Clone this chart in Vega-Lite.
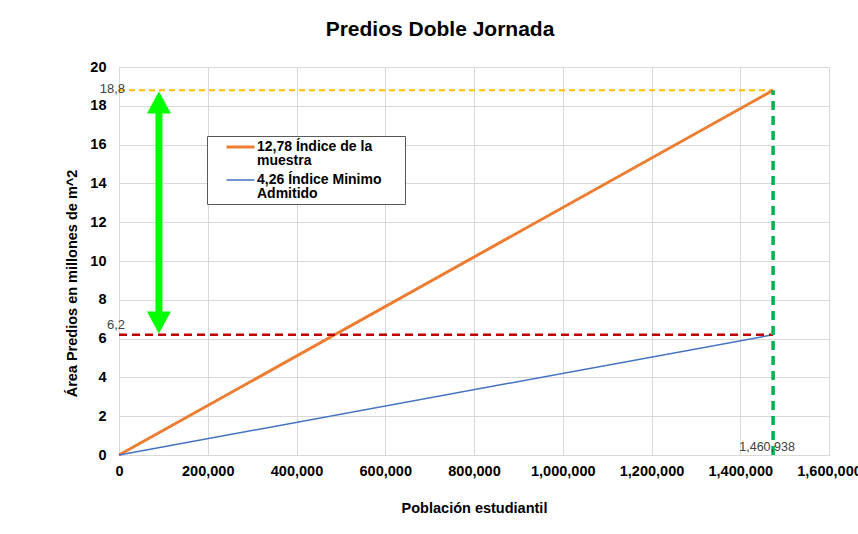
{
  "$schema": "https://vega.github.io/schema/vega-lite/v6.json",
  "width": 710,
  "height": 388,
  "autosize": "none",
  "padding": {"left": 119, "top": 67, "right": 29, "bottom": 79},
  "background": "white",
  "title": {"text": "Predios Doble Jornada", "font": "Liberation Sans", "fontSize": 21, "fontWeight": "bold", "color": "#000000", "anchor": "middle", "dx": -34, "offset": 19},
  "config": {"view": {"stroke": "#d9d9d9"}, "font": "Liberation Sans"},
  "datasets": {
    "lines": [
      {"series": "12,78 Índice de la muestra", "pob": 0, "area": 0},
      {"series": "12,78 Índice de la muestra", "pob": 1474000, "area": 18.8},
      {"series": "4,26 Índice Minimo Admitido", "pob": 0, "area": 0},
      {"series": "4,26 Índice Minimo Admitido", "pob": 1474000, "area": 6.2}
    ]
  },
  "layer": [
    {
      "data": {"values": [{"x0": 0, "x1": 1474000, "y": 18.8}]},
      "mark": {"type": "rule", "color": "#FFC000", "strokeWidth": 2, "strokeDash": [6, 4]},
      "encoding": {
        "x": {"field": "x0", "type": "quantitative", "scale": {"domain": [0, 1600000], "nice": false},
          "axis": {"values": [0, 200000, 400000, 600000, 800000, 1000000, 1200000, 1400000, 1600000], "tickCount": 20, "format": ",d", "labelFont": "Liberation Sans", "labelFontSize": 14.5, "labelFontWeight": "bold", "labelColor": "#000000", "labelPadding": 9, "ticks": false, "domainColor": "#d9d9d9", "gridColor": "#d9d9d9", "labelOverlap": false, "labelBound": false, "labelFlush": false, "title": "Población estudiantil", "titleFont": "Liberation Sans", "titleFontSize": 14.5, "titleFontWeight": "bold", "titleColor": "#000000", "titleY": 53, "titleBaseline": "middle"}},
        "x2": {"field": "x1"},
        "y": {"field": "y", "type": "quantitative", "scale": {"domain": [0, 20], "nice": false},
          "axis": {"values": [0, 2, 4, 6, 8, 10, 12, 14, 16, 18, 20], "tickCount": 20, "labelFont": "Liberation Sans", "labelFontSize": 14.5, "labelFontWeight": "bold", "labelColor": "#000000", "labelPadding": 13, "labelOverlap": false, "labelBound": false, "labelFlush": false, "ticks": false, "domain": false, "gridColor": "#d9d9d9", "title": "Área  Predios en millones de m^2", "titleFont": "Liberation Sans", "titleFontSize": 14.5, "titleFontWeight": "bold", "titleColor": "#000000", "titleX": -47, "titleY": 216, "titleAngle": -90, "titleAlign": "center", "titleBaseline": "middle"}}
      }
    },
    {
      "data": {"name": "lines"},
      "mark": {"type": "line"},
      "encoding": {
        "x": {"field": "pob", "type": "quantitative"},
        "y": {"field": "area", "type": "quantitative"},
        "color": {"field": "series", "type": "nominal",
          "scale": {"domain": ["12,78 Índice de la muestra", "4,26 Índice Minimo Admitido"], "range": ["#ED7D31", "#4472C4"]},
          "legend": {"orient": "none", "legendX": 88, "legendY": 69, "title": null, "strokeColor": "#595959", "fillColor": "white", "padding": 3, "symbolOffset": 15,
            "labelFont": "Liberation Sans", "labelFontSize": 14, "labelFontWeight": "bold", "labelColor": "#000000",
            "labelExpr": "datum.label == '12,78 Índice de la muestra' ? ['12,78 Índice de la', 'muestra'] : ['4,26 Índice Minimo\u2800\u2800', 'Admitido']",
            "labelBaseline": "top",
            "symbolType": "stroke", "symbolSize": 196, "symbolStrokeWidth": 2.5, "rowPadding": 4, "labelOffset": 1, "labelLimit": 250,
            "encode": {"labels": {"update": {"lineHeight": {"value": 14}, "dy": {"value": -7}, "y": {"value": 8}}}, "symbols": {"update": {"size": {"value": 784}, "y": {"value": 8}}}}}},
        "strokeWidth": {"field": "series", "type": "nominal",
          "scale": {"domain": ["12,78 Índice de la muestra", "4,26 Índice Minimo Admitido"], "range": [3, 1.5]}, "legend": null}
      }
    },
    {
      "data": {"values": [{"x0": 0, "x1": 1474000, "y": 6.2}]},
      "mark": {"type": "rule", "color": "#C00000", "strokeWidth": 2.5, "strokeDash": [8, 5]},
      "encoding": {
        "x": {"field": "x0", "type": "quantitative"},
        "x2": {"field": "x1"},
        "y": {"field": "y", "type": "quantitative"}
      }
    },
    {
      "data": {"values": [{"x": 1474000, "y0": 0, "y1": 18.8}]},
      "mark": {"type": "rule", "color": "#00B050", "strokeWidth": 3.5, "strokeDash": [9, 6]},
      "encoding": {
        "x": {"field": "x", "type": "quantitative"},
        "y": {"field": "y0", "type": "quantitative"},
        "y2": {"field": "y1"}
      }
    },
    {
      "data": {"values": [{"x": 90000, "y0": 7.2, "y1": 17.8}]},
      "mark": {"type": "rule", "color": "#00FF00", "strokeWidth": 7},
      "encoding": {
        "x": {"field": "x", "type": "quantitative"},
        "y": {"field": "y0", "type": "quantitative"},
        "y2": {"field": "y1"}
      }
    },
    {
      "data": {"values": [{"x": 90000, "y": 18.75, "dir": "up"}, {"x": 90000, "y": 6.25, "dir": "down"}]},
      "mark": {"type": "point", "filled": true, "color": "#00FF00", "opacity": 1, "size": 576},
      "encoding": {
        "x": {"field": "x", "type": "quantitative"},
        "y": {"field": "y", "type": "quantitative"},
        "shape": {"field": "dir", "type": "nominal", "scale": {"domain": ["up", "down"], "range": ["M0,0L-1,1.85L1,1.85Z", "M0,0L-1,-1.85L1,-1.85Z"]}, "legend": null}
      }
    },
    {
      "data": {"values": [{"x": 0, "y": 18.8, "t": "18,8"}]},
      "mark": {"type": "text", "align": "right", "baseline": "middle", "dx": 6, "dy": -1, "font": "Liberation Sans", "fontSize": 13, "color": "#404040"},
      "encoding": {"x": {"field": "x", "type": "quantitative"}, "y": {"field": "y", "type": "quantitative"}, "text": {"field": "t"}}
    },
    {
      "data": {"values": [{"x": 0, "y": 6.2, "t": "6,2"}]},
      "mark": {"type": "text", "align": "right", "baseline": "middle", "dx": 6, "dy": -10, "font": "Liberation Sans", "fontSize": 13, "color": "#404040"},
      "encoding": {"x": {"field": "x", "type": "quantitative"}, "y": {"field": "y", "type": "quantitative"}, "text": {"field": "t"}}
    },
    {
      "data": {"values": [{"x": 1474000, "y": 0, "t": "1,460,938"}]},
      "mark": {"type": "text", "align": "center", "baseline": "middle", "dx": -6, "dy": -8, "font": "Liberation Sans", "fontSize": 12.5, "color": "#404040"},
      "encoding": {"x": {"field": "x", "type": "quantitative"}, "y": {"field": "y", "type": "quantitative"}, "text": {"field": "t"}}
    }
  ]
}
